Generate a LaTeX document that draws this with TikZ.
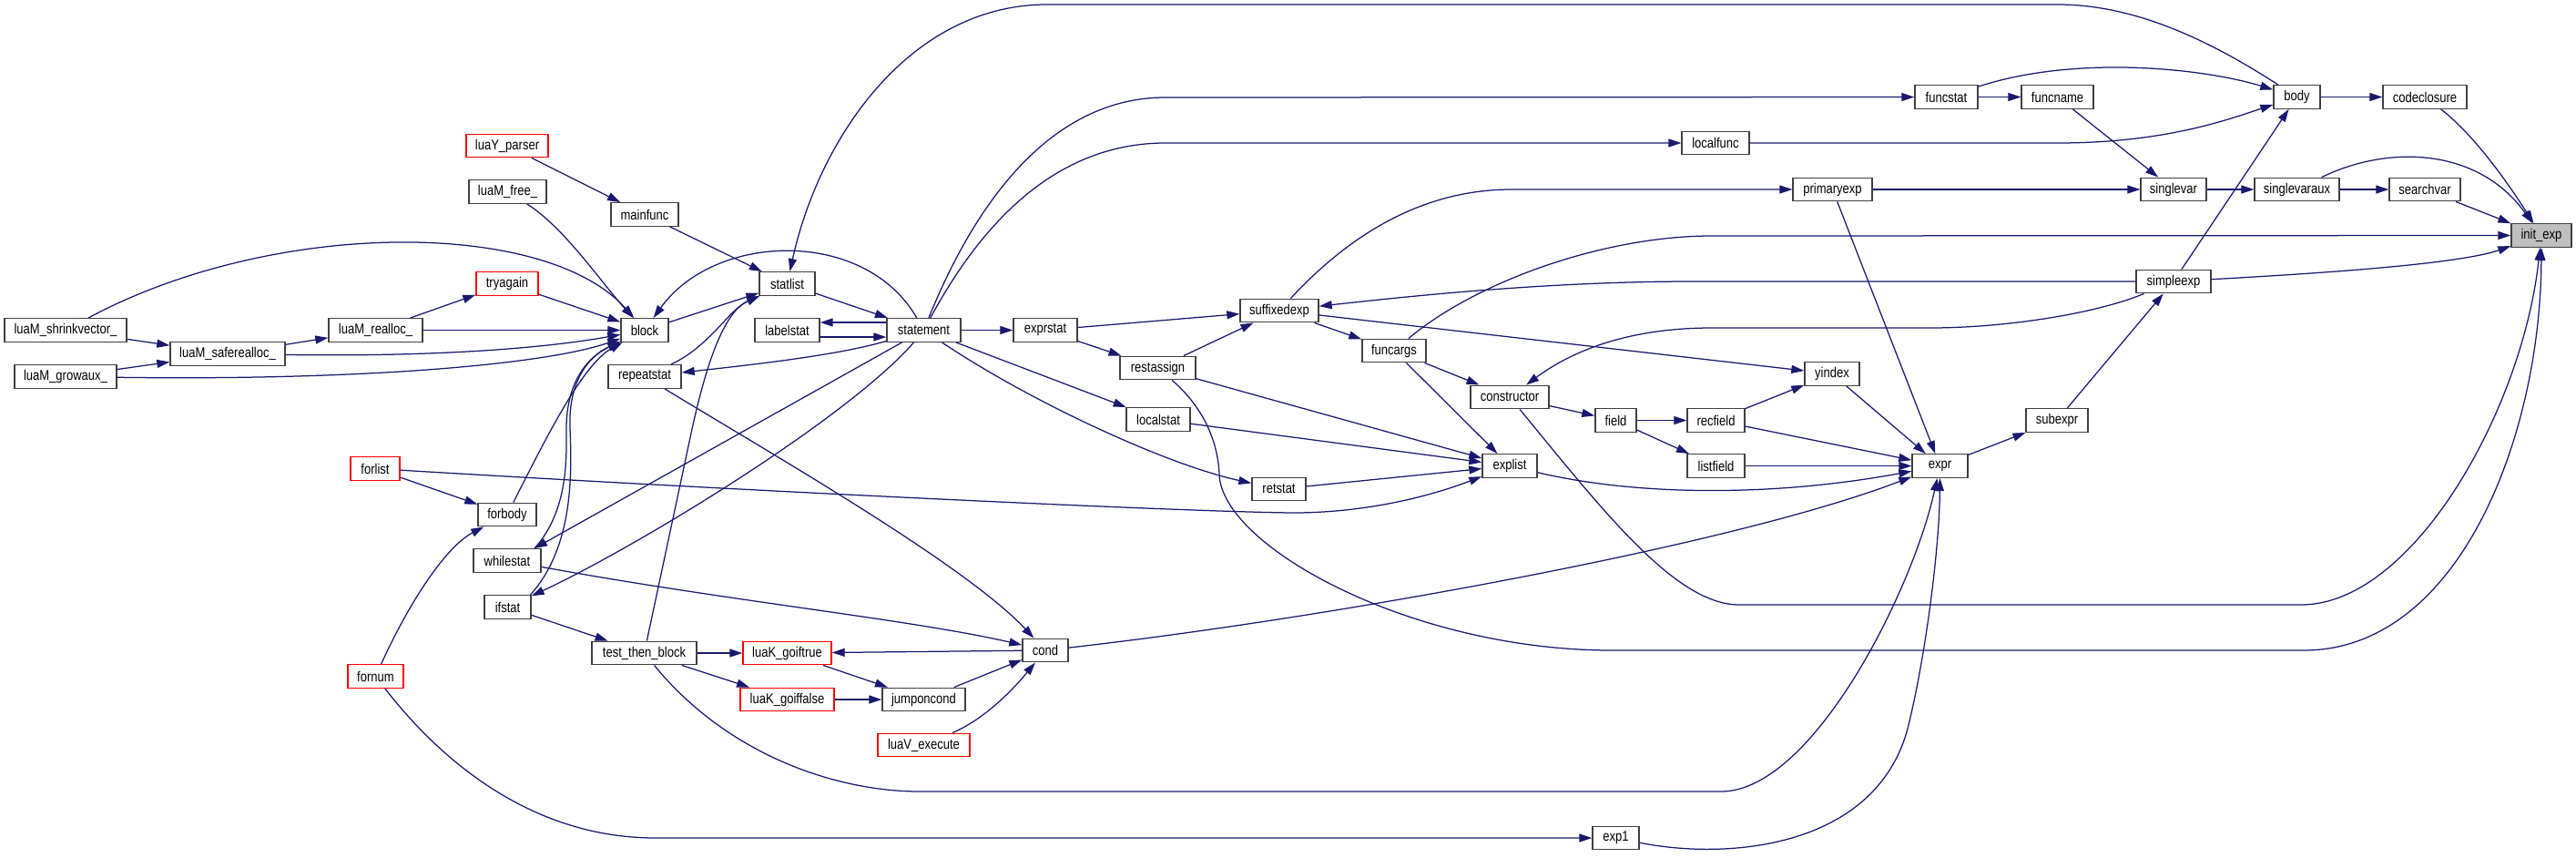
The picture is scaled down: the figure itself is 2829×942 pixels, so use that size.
\documentclass[tikz,border=0pt]{standalone}
\usepackage{fontspec}
\newfontfamily\nfont[FakeStretch=0.84]{Liberation Sans}
\usetikzlibrary{arrows.meta}
\definecolor{edgec}{HTML}{191970}
\definecolor{bordc}{HTML}{404040}
\definecolor{redc}{HTML}{FF0000}
\definecolor{grayc}{HTML}{BFBFBF}
\tikzset{
  nd/.style={draw=bordc, line width=1.4pt, fill=white, minimum height=25.5pt, inner sep=0pt, text=black, font=\nfont\fontsize{15.5pt}{18pt}\selectfont},
  rd/.style={nd, draw=redc},
  gr/.style={nd, fill=grayc},
  ed/.style={draw=edgec, line width=1.25pt, -{Triangle[length=14pt,width=9pt]}}
}
\begin{document}
\begin{tikzpicture}[x=1pt,y=-1pt]
\useasboundingbox[fill=white] (0,0) rectangle (2829,942);
% nodes
\node[rd, minimum width=90pt] (yparser) at (557,160) {luaY\_parser};
\node[nd, minimum width=85pt] (mfree) at (557.5,210.5) {luaM\_free\_};
\node[nd, minimum width=74pt] (mainfunc) at (708,235.5) {mainfunc};
\node[rd, minimum width=68pt] (tryagain) at (557,311.5) {tryagain};
\node[nd, minimum width=134pt] (shrink) at (72,362.5) {luaM\_shrinkvector\_};
\node[nd, minimum width=126pt] (safe) at (250,388.5) {luaM\_saferealloc\_};
\node[nd, minimum width=103pt] (realloc) at (412.5,362.5) {luaM\_realloc\_};
\node[nd, minimum width=112pt] (grow) at (72,413.5) {luaM\_growaux\_};
\node[nd, minimum width=52pt] (block) at (708,362.5) {block};
\node[nd, minimum width=80pt] (repeatstat) at (708,413.5) {repeatstat};
\node[rd, minimum width=54pt] (forlist) at (412,514.5) {forlist};
\node[nd, minimum width=64pt] (forbody) at (557,565) {forbody};
\node[nd, minimum width=74pt] (whilestat) at (557,615.5) {whilestat};
\node[nd, minimum width=51pt] (ifstat) at (557.5,666.5) {ifstat};
\node[nd, minimum width=115pt] (ttb) at (707.5,717) {test\_then\_block};
\node[rd, minimum width=61pt] (fornum) at (412.5,742.5) {fornum};
\node[nd, minimum width=61pt] (statlist) at (864.5,311.5) {statlist};
\node[nd, minimum width=71pt] (labelstat) at (864.5,362.5) {labelstat};
\node[nd, minimum width=81pt] (statement) at (1014.5,362.5) {statement};
\node[nd, minimum width=70pt] (exprstat) at (1148,362.5) {exprstat};
\node[nd, minimum width=83pt] (restassign) at (1271.5,404) {restassign};
\node[nd, minimum width=70pt] (localstat) at (1272,460.5) {localstat};
\node[nd, minimum width=86pt] (suffixedexp) at (1405,341) {suffixedexp};
\node[nd, minimum width=59pt] (retstat) at (1404.5,537) {retstat};
\node[rd, minimum width=97pt] (goiftrue) at (864.5,717) {luaK\_goiftrue};
\node[nd, minimum width=50pt] (cond) at (1148,714) {cond};
\node[rd, minimum width=103pt] (goiffalse) at (864.5,768) {luaK\_goiffalse};
\node[nd, minimum width=91pt] (jumponcond) at (1014.5,768) {jumponcond};
\node[rd, minimum width=101pt] (vexec) at (1014.5,818) {luaV\_execute};
\node[nd, minimum width=69pt] (funcstat) at (2137.5,106.5) {funcstat};
\node[nd, minimum width=74pt] (localfunc) at (1884,157) {localfunc};
\node[nd, minimum width=87pt] (primaryexp) at (2012.5,208) {primaryexp};
\node[nd, minimum width=70pt] (funcargs) at (1531,385) {funcargs};
\node[nd, minimum width=86pt] (constructor) at (1658,436) {constructor};
\node[nd, minimum width=60pt] (yindex) at (2012,410.5) {yindex};
\node[nd, minimum width=45pt] (field) at (1774.5,461.5) {field};
\node[nd, minimum width=63pt] (recfield) at (1884.5,461.5) {recfield};
\node[nd, minimum width=60pt] (explist) at (1658,511.5) {explist};
\node[nd, minimum width=63pt] (listfield) at (1884.5,511.5) {listfield};
\node[nd, minimum width=51pt] (expone) at (1774.5,920) {exp1};
\node[nd, minimum width=61pt] (expr) at (2130.5,511.5) {expr};
\node[nd, minimum width=79pt] (funcname) at (2259.5,106.5) {funcname};
\node[nd, minimum width=51pt] (body) at (2522.5,106.5) {body};
\node[nd, minimum width=92pt] (codeclosure) at (2663,106.5) {codeclosure};
\node[nd, minimum width=72pt] (singlevar) at (2387,208) {singlevar};
\node[nd, minimum width=93pt] (singlevaraux) at (2522.5,208) {singlevaraux};
\node[nd, minimum width=78pt] (searchvar) at (2663,208) {searchvar};
\node[gr, minimum width=66pt] (initexp) at (2791,258.5) {init\_exp};
\node[nd, minimum width=82pt] (simpleexp) at (2387,309) {simpleexp};
\node[nd, minimum width=68pt] (subexpr) at (2259,461.5) {subexpr};
% edges
\draw[ed] (yparser) -- (mainfunc);
\draw[ed] (mfree) .. controls (620,250) and (660,310) .. (block);
\draw[ed] (mainfunc) -- (statlist);
\draw[ed] (tryagain) -- (block);
\draw[ed] (realloc) -- (tryagain);
\draw[ed] (realloc) -- (block);
\draw[ed] (shrink) .. controls (300,240) and (600,240) .. (block);
\draw[ed] (shrink) -- (safe);
\draw[ed] (grow) -- (safe);
\draw[ed] (safe) -- (realloc);
\draw[ed] (safe) .. controls (480,392) and (600,382) .. (block);
\draw[ed] (grow) .. controls (400,418) and (600,400) .. (block);
\draw[ed] (block) -- (statlist);
\draw[ed] (statement) .. controls (950,250) and (785,255) .. (block);
\draw[ed] (statlist) -- (statement);
\draw[ed] ([yshift=8.5pt]statement.west) -- ([yshift=8.5pt]labelstat.east);
\draw[ed] ([yshift=-7.5pt]labelstat.east) -- ([yshift=-7.5pt]statement.west);
\draw[ed] (statement) .. controls (920,390) and (830,400) .. (repeatstat);
\draw[ed] (statement) -- (exprstat);
\draw[ed] (exprstat) -- (suffixedexp);
\draw[ed] (exprstat) -- (restassign);
\draw[ed] (restassign) -- (suffixedexp);
\draw[ed] (statement) -- (localstat);
\draw[ed] (statement) .. controls (1130,440) and (1280,510) .. (retstat);
\draw[ed] ([xshift=-24pt]statement.south) -- ([xshift=30pt]whilestat.north);
\draw[ed] ([xshift=-11pt]statement.south) .. controls (930,460) and (700,600) .. (ifstat);
\draw[ed] (ifstat) -- (ttb);
\draw[ed] ([xshift=25pt]ifstat.north) .. controls (630,600) and (628,520) .. (626,470) .. controls (624,420) and (645,392) .. (block);
\draw[ed] ([xshift=30pt]whilestat.north) .. controls (625,560) and (622,500) .. (622,470) .. controls (622,420) and (645,392) .. (block);
\draw[ed] (forbody) .. controls (600,480) and (640,400) .. (block);
\draw[ed] (repeatstat) .. controls (780,380) and (800,340) .. (statlist);
\draw[ed] (ttb) -- (760,471) .. controls (780,380) and (800,340) .. (statlist);
\draw[ed] (ttb) -- (goiftrue);
\draw[ed] (ttb) -- (goiffalse);
\draw[ed] (cond) -- (goiftrue);
\draw[ed] (goiftrue) -- (jumponcond);
\draw[ed] (goiffalse) -- (jumponcond);
\draw[ed] (jumponcond) -- (cond);
\draw[ed] (vexec) .. controls (1080,790) and (1110,760) .. (cond);
\draw[ed] (whilestat) .. controls (800,660) and (1000,680) .. (cond);
\draw[ed] (repeatstat) .. controls (850,500) and (1060,620) .. (cond);
\draw[ed] (forlist) -- (forbody);
\draw[ed] (fornum) .. controls (450,660) and (490,600) .. (forbody);
\draw[ed] (forlist) .. controls (800,538) and (1300,562) .. (1420,563) .. controls (1500,563) and (1570,545) .. (explist);
\draw[ed] (fornum) .. controls (480,830) and (580,920) .. (720,920) -- (expone);
\draw[ed] (ttb) .. controls (800,830) and (920,869) .. (1010,869) -- (1890,869) .. controls (1990,869) and (2100,650) .. (expr);
\draw[ed] (expone) .. controls (1900,945) and (2060,930) .. (2095,800) .. controls (2115,720) and (2130,600) .. (expr);
\draw[ed] (cond) .. controls (1450,680) and (1900,600) .. (expr);
\draw[ed] (explist) .. controls (1800,545) and (1950,545) .. (expr);
\draw[ed] (listfield) -- (expr);
\draw[ed] (recfield) -- (expr);
\draw[ed] (yindex) -- (expr);
\draw[ed] (primaryexp) -- (expr);
\draw[ed] (expr) -- (subexpr);
\draw[ed] (subexpr) -- (simpleexp);
\draw[ed] (simpleexp) -- (body);
\draw[ed] (simpleexp) .. controls (2550,300) and (2700,290) .. (initexp);
\draw[ed] (simpleexp) -- (1860,309) .. controls (1700,309) and (1550,325) .. (suffixedexp);
\draw[ed] (simpleexp) .. controls (2300,345) and (2200,360) .. (2120,360) -- (1880,360) .. controls (1780,360) and (1720,390) .. (constructor);
\draw[ed] (funcargs) .. controls (1620,310) and (1760,259) .. (1880,259) -- (initexp);
\draw[ed] (suffixedexp) .. controls (1480,260) and (1560,208) .. (1660,208) -- (primaryexp);
\draw[ed] (suffixedexp) -- (funcargs);
\draw[ed] (suffixedexp) -- (yindex);
\draw[ed] (funcargs) -- (constructor);
\draw[ed] (funcargs) -- (explist);
\draw[ed] (constructor) -- (field);
\draw[ed] (field) -- (recfield);
\draw[ed] (field) -- (listfield);
\draw[ed] (recfield) -- (yindex);
\draw[ed] (constructor) .. controls (1760,560) and (1840,664) .. (1910,664) -- (2527,664) .. controls (2650,664) and (2770,450) .. (initexp);
\draw[ed] (restassign) .. controls (1325,450) and (1338,490) .. (1339,521) .. controls (1342,600) and (1550,714) .. (1770,714) -- (2530,714) .. controls (2700,714) and (2790,480) .. (initexp);
\draw[ed] (statement) .. controls (1060,250) and (1140,107) .. (1280,107) -- (funcstat);
\draw[ed] (statement) .. controls (1070,260) and (1150,157) .. (1280,157) -- (localfunc);
\draw[ed] (body) .. controls (2420,40) and (2340,5) .. (2260,5) -- (1150,5) .. controls (1000,5) and (900,150) .. (statlist);
\draw[ed] (funcstat) -- (funcname);
\draw[ed] (funcstat) .. controls (2280,60) and (2420,75) .. (body);
\draw[ed] (localfunc) -- (2260,157) .. controls (2380,157) and (2450,130) .. (body);
\draw[ed] (body) -- (codeclosure);
\draw[ed] (codeclosure) .. controls (2720,150) and (2760,210) .. (initexp);
\draw[ed] (funcname) -- (singlevar);
\draw[ed] (singlevar) -- (singlevaraux);
\draw[ed] (singlevaraux) -- (searchvar);
\draw[ed] (primaryexp) -- (singlevar);
\draw[ed] (singlevaraux) .. controls (2620,160) and (2720,160) .. (initexp);
\draw[ed] (searchvar) -- (initexp);
\draw[ed] (localstat) -- (explist);
\draw[ed] (restassign) -- (explist);
\draw[ed] (retstat) -- (explist);
\end{tikzpicture}
\end{document}
